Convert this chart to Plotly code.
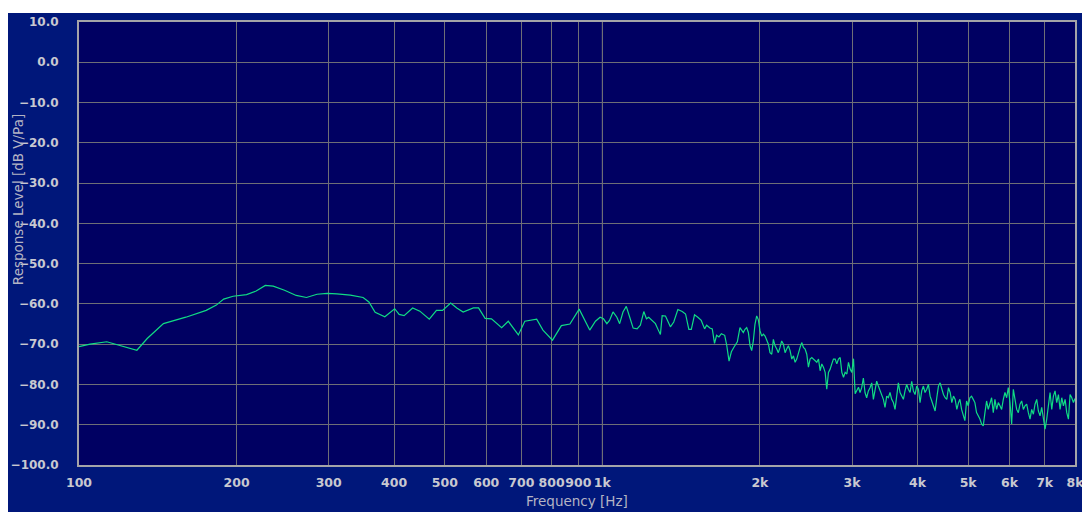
import math
import plotly.graph_objects as go

# ---- data: (frequency Hz, response level dB V/Pa) ----
low_band = [
    (100, -70.6), (105, -70.0), (113, -69.4), (121, -70.4), (129, -71.5), (135, -68.6),
    (145, -64.9), (160, -63.3), (175, -61.6), (183, -60.3), (189, -58.8), (197, -58.1),
    (209, -57.7), (218, -56.8), (227, -55.4), (235, -55.6), (247, -56.6), (260, -57.9),
    (272, -58.4), (285, -57.6), (298, -57.4), (311, -57.5), (330, -57.8), (349, -58.4),
    (358, -59.5), (368, -62.1), (384, -63.2), (401, -61.2), (409, -62.6), (418, -62.9),
    (434, -61.0), (448, -61.8), (467, -63.8), (482, -61.6), (495, -61.6), (513, -59.8),
    (527, -61.0), (542, -62.0), (567, -61.0), (580, -61.0), (597, -63.6), (614, -63.7),
    (642, -65.9), (661, -64.3), (691, -67.7), (711, -64.3), (749, -63.8), (770, -66.5),
    (803, -69.0), (835, -65.4), (867, -65.0), (903, -61.3), (946, -66.5), (970, -64.3),
]
mid_band = [
    (990, -63.3), (1005, -63.7), (1020, -64.9), (1032, -64.1), (1048, -62.0), (1066, -63.3),
    (1079, -64.9), (1095, -62.0), (1111, -60.6), (1128, -63.3), (1145, -66.0), (1165, -66.2),
    (1182, -65.3), (1200, -61.9), (1214, -63.7), (1226, -63.3), (1245, -64.1), (1263, -64.9),
    (1276, -66.2), (1291, -67.6), (1301, -62.9), (1320, -63.0), (1349, -65.7), (1369, -64.5),
    (1394, -61.4), (1421, -61.9), (1442, -62.5), (1463, -66.3), (1479, -66.3), (1500, -62.7),
    (1522, -63.3), (1545, -64.1), (1568, -66.2), (1582, -65.3), (1605, -66.0), (1622, -66.2),
    (1638, -69.8), (1653, -67.8), (1670, -68.2), (1688, -67.4), (1713, -67.8), (1728, -70.2),
    (1746, -74.2), (1764, -71.9), (1785, -70.7), (1811, -69.4),
]
band_2k = [
    (1832, -65.9), (1846, -66.7), (1859, -67.1), (1873, -66.3), (1887, -65.9), (1901, -67.1),
    (1915, -70.4), (1929, -71.6), (1943, -69.2), (1957, -65.1), (1972, -63.0), (1986, -63.9),
    (2001, -66.7), (2016, -68.0), (2031, -67.5), (2046, -68.0), (2061, -69.2), (2076, -70.0),
    (2091, -72.1), (2107, -72.5), (2122, -68.8), (2138, -70.4), (2154, -71.2), (2169, -72.1),
    (2185, -70.8), (2201, -69.2), (2218, -70.0), (2234, -72.1), (2250, -71.2), (2267, -70.4),
    (2284, -71.6), (2301, -73.7), (2318, -72.9), (2335, -74.5), (2352, -73.7), (2369, -72.1),
    (2387, -70.8), (2404, -69.6), (2422, -70.8), (2440, -71.2), (2458, -72.5), (2476, -75.7),
    (2494, -73.7), (2513, -73.3), (2531, -73.7), (2550, -74.1), (2569, -74.5), (2588, -73.7),
    (2607, -76.6), (2626, -74.9), (2645, -75.7), (2665, -77.0), (2684, -81.2), (2704, -77.0),
    (2724, -76.2), (2744, -74.9), (2764, -73.7), (2785, -73.7), (2805, -74.9), (2826, -73.7),
    (2847, -73.3), (2868, -77.0), (2889, -78.2), (2910, -77.0), (2932, -77.4), (2953, -74.5),
    (2975, -76.2), (2997, -77.0), (3019, -73.6), (3041, -82.3), (3063, -81.5), (3086, -80.7),
]
band_4k = [
    (3107, -82.0), (3130, -80.8), (3153, -78.4), (3176, -82.0), (3199, -83.3), (3223, -81.6),
    (3247, -80.8), (3271, -79.6), (3295, -83.7), (3319, -81.2), (3343, -79.2), (3368, -80.4),
    (3393, -81.6), (3418, -82.9), (3443, -83.7), (3468, -85.7), (3494, -82.9), (3519, -83.3),
    (3545, -82.0), (3571, -83.7), (3598, -84.5), (3624, -86.2), (3651, -83.3), (3678, -79.6),
    (3705, -82.0), (3732, -82.9), (3760, -83.7), (3787, -81.6), (3815, -80.0), (3843, -81.2),
    (3872, -82.0), (3900, -79.2), (3929, -81.6), (3958, -82.5), (3987, -80.4), (4017, -81.2),
    (4046, -84.5), (4076, -81.6), (4106, -80.4), (4136, -82.0), (4167, -81.2), (4198, -80.0),
    (4229, -82.9), (4260, -84.1), (4291, -85.3), (4323, -86.6), (4355, -83.3), (4387, -80.4),
    (4419, -79.6), (4452, -81.2), (4485, -82.5), (4518, -83.3), (4551, -83.7), (4585, -80.8),
    (4619, -82.0), (4653, -84.5), (4687, -82.9), (4722, -83.7), (4757, -86.2), (4792, -84.5),
]
band_6k = [
    (4821, -83.7), (4857, -86.2), (4892, -87.8), (4928, -89.0), (4965, -84.1), (5001, -85.3),
    (5038, -83.3), (5075, -82.9), (5113, -83.7), (5150, -84.5), (5188, -87.0), (5227, -87.8),
    (5265, -88.6), (5304, -89.8), (5343, -90.3), (5383, -87.0), (5422, -84.1), (5462, -86.2),
    (5503, -84.9), (5543, -83.3), (5584, -87.0), (5625, -83.7), (5667, -86.2), (5709, -84.5),
    (5751, -85.3), (5793, -86.2), (5836, -83.7), (5879, -82.0), (5922, -83.3), (5966, -80.8),
    (6010, -84.5), (6054, -89.8), (6099, -81.2), (6144, -83.7), (6189, -86.2), (6235, -87.0),
    (6281, -84.9), (6327, -84.1), (6374, -86.2), (6421, -85.3), (6468, -84.9), (6516, -87.0),
    (6564, -88.6), (6612, -86.2), (6661, -87.4), (6710, -84.9), (6760, -83.7), (6810, -86.6),
    (6860, -87.8), (6910, -85.7), (6961, -89.0), (7013, -91.1), (7064, -88.6), (7116, -84.5),
    (7169, -82.0), (7222, -86.2), (7275, -82.9), (7328, -81.6), (7382, -84.5), (7437, -82.5),
    (7492, -86.2), (7547, -83.3), (7603, -85.3), (7659, -83.7), (7715, -87.0), (7772, -88.6),
    (7829, -82.5), (7887, -83.3), (7945, -84.5), (8000, -83.5),
]

x_tick_vals = [100, 200, 300, 400, 500, 600, 700, 800, 900,
               1000, 2000, 3000, 4000, 5000, 6000, 7000, 8000]
x_tick_text = ["100", "200", "300", "400", "500", "600", "700", "800", "900",
               "1k", "2k", "3k", "4k", "5k", "6k", "7k", "8k"]
y_tick_vals = [10, 0, -10, -20, -30, -40, -50, -60, -70, -80, -90, -100]

points = low_band + mid_band + band_2k + band_4k + band_6k
freqs = [p[0] for p in points]
levels = [p[1] for p in points]

OUTER = "#00177A"
PLOT_BG = "#000062"
GRID = "#6E6E76"
FRAME = "#A4A4A8"
XTICK_FONT = dict(family="DejaVu Sans", size=12.5, color="#C8C8D0", weight="bold")
YTICK_FONT = dict(family="DejaVu Sans", size=12, color="#C8C8D0", weight="bold")
YTITLE_FONT = dict(family="DejaVu Sans", size=13.5, color="#B4B4C4")
XTITLE_FONT = dict(family="DejaVu Sans", size=13.5, color="#B4B4C4")

fig = go.Figure()
fig.add_trace(go.Scatter(
    x=freqs, y=levels, mode="lines",
    line=dict(color="#10DC84", width=1.2),
    hoverinfo="skip", showlegend=False,
))

fig.update_layout(
    width=1082, height=504, autosize=False,
    margin=dict(l=71, r=15, t=14, b=47, pad=0, autoexpand=False),
    paper_bgcolor="white",
    plot_bgcolor=PLOT_BG,
    showlegend=False,
    shapes=[
        dict(type="rect", xref="paper", yref="paper", x0=-0.2, x1=1.2, y0=-0.3, y1=1.0203,
             fillcolor=OUTER, line=dict(width=0), layer="below"),
        dict(type="rect", xref="paper", yref="paper", x0=0, x1=1, y0=0, y1=1,
             fillcolor=PLOT_BG, line=dict(width=0), layer="below"),
        dict(type="line", xref="x", yref="paper", x0=1000, x1=1000, y0=0, y1=1,
             line=dict(color="#8C8C98", width=1), layer="between"),
    ],
    annotations=[
        dict(text="Response Level [dB V/Pa]", xref="paper", yref="paper",
             x=-0.0612, y=0.598, xanchor="center", yanchor="middle",
             textangle=-90, showarrow=False, font=YTITLE_FONT),
        dict(text="Frequency [Hz]", xref="paper", yref="paper",
             x=0.5, y=-0.1045, xanchor="center", yanchor="bottom",
             showarrow=False, font=XTITLE_FONT),
    ],
)

fig.update_xaxes(
    type="log", range=[math.log10(100), math.log10(8000)],
    tickmode="array", tickvals=x_tick_vals, ticktext=x_tick_text, tickangle=0,
    showgrid=True, gridcolor=GRID, gridwidth=1,
    showline=True, linecolor=FRAME, linewidth=2, mirror=True,
    ticks="", tickfont=XTICK_FONT, ticklabelstandoff=5,
    zeroline=False, fixedrange=True, automargin=False,
)
fig.update_yaxes(
    range=[-100, 10], tickmode="array", tickvals=y_tick_vals,
    tickformat=".1f",
    showgrid=True, gridcolor=GRID, gridwidth=1,
    showline=True, linecolor=FRAME, linewidth=2, mirror=True,
    ticks="", tickfont=YTICK_FONT, ticklabelstandoff=16,
    zeroline=False, fixedrange=True, automargin=False,
)

fig.write_html("out.html", config={"displayModeBar": False})
